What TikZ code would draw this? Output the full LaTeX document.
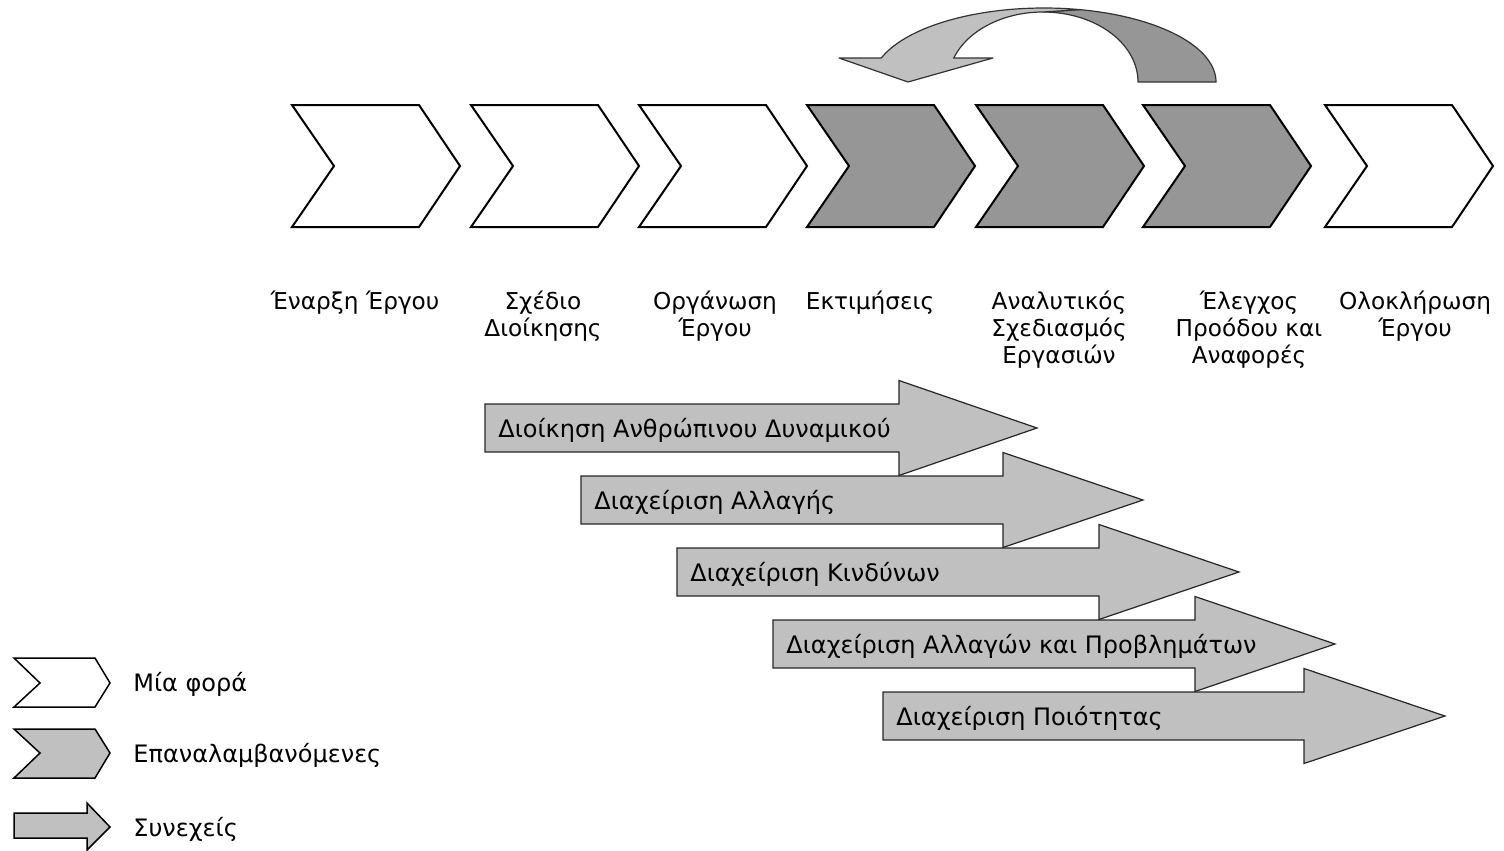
\documentclass[tikz,border=0pt]{standalone}
\usepackage{fontspec}
\setmainfont{DejaVu Sans}
\definecolor{lightg}{HTML}{C0C0C0}
\definecolor{darkg}{HTML}{969696}
\tikzset{
  chev/.style={draw=black, line width=1pt, line join=miter},
  legshape/.style={draw=black, line width=0.75pt, line join=miter},
  contshape/.style={draw=black!85, line width=0.6pt, fill=lightg, line join=miter},
  curveshape/.style={draw=black!80, line width=0.6pt, line join=round},
  lab/.style={font=\fontsize{11.6}{13.5}\selectfont, align=center, inner sep=0pt, anchor=base},
  atext/.style={font=\fontsize{12}{14}\selectfont, inner sep=0pt, anchor=base west},
}
\newcommand\mychev[2]{%
  \draw[chev, fill=#2] (#1,105) -- ++(127,0) -- ++(41,61) -- ++(-41,61) -- ++(-127,0) -- ++(42,-61) -- cycle;}
\newcommand\contarrow[6]{%
  \draw[contshape] ({#2},{#3}) -- ({#4},{#3}) -- ({#4},{#3-23.5}) -- ({#5},{#3+24})
    -- ({#4},{#3+71.5}) -- ({#4},{#3+48}) -- ({#2},{#3+48}) -- cycle;
  \node[atext] (#1) at ({#2+13},{#3+33}) {#6};}
\begin{document}
\begin{tikzpicture}[x=0.5pt, y=-0.5pt]
\useasboundingbox (0,0) rectangle (1504,851);

% curved arrow: back (dark) part
\draw[curveshape, fill=darkg] (1043,12) -- (1080,9.6)
  -- plot[domain=78:0, samples=40, variable=\t] ({1044+172*cos(\t)}, {82-74*sin(\t)})
  -- (1138,82)
  -- plot[domain=0:90, samples=40, variable=\t] ({1043+95*cos(\t)}, {82-70*sin(\t)})
  -- cycle;
% curved arrow: front (light) part with head
\draw[curveshape, fill=lightg] (839,58) -- (881,58)
  -- plot[domain=161:78, samples=50, variable=\t] ({1044+172*cos(\t)}, {82-74*sin(\t)})
  -- (1043,12)
  -- plot[domain=90:160, samples=40, variable=\t] ({1043+95*cos(\t)}, {82-70*sin(\t)})
  -- (993,58) -- (908,82) -- cycle;

% chevrons
\mychev{292}{white}
\mychev{471}{white}
\mychev{639}{white}
\mychev{807}{darkg}
\mychev{976}{darkg}
\mychev{1143}{darkg}
\mychev{1325}{white}

% labels (base anchor = baseline of last line)
\node[lab] (l1) at (355,309) {Έναρξη Έργου};
\node[lab] (l2) at (543,336) {Σχέδιο\\Διοίκησης};
\node[lab] (l3) at (715,336) {Οργάνωση\\Έργου};
\node[lab] (l4) at (870,309) {Εκτιμήσεις};
\node[lab] (l5) at (1059,363) {Αναλυτικός\\Σχεδιασμός\\Εργασιών};
\node[lab] (l6) at (1249,363) {Έλεγχος\\Προόδου και\\Αναφορές};
\node[lab] (l7) at (1415,336) {Ολοκλήρωση\\Έργου};

% continuous arrows
\contarrow{a1}{485}{404}{899}{1037}{Διοίκηση Ανθρώπινου Δυναμικού}
\contarrow{a2}{581}{476}{1003}{1143}{Διαχείριση Αλλαγής}
\contarrow{a3}{677}{548}{1099}{1239}{Διαχείριση Κινδύνων}
\contarrow{a4}{773}{620}{1195}{1335}{Διαχείριση Αλλαγών και Προβλημάτων}
\contarrow{a5}{883}{692}{1304}{1445}{Διαχείριση Ποιότητας}

% legend
\draw[legshape, fill=white] (14,658) -- (95,658) -- (110,683) -- (95,707) -- (14,707) -- (40,683) -- cycle;
\draw[legshape, fill=lightg] (14,729) -- (95,729) -- (110,753) -- (95,778) -- (14,778) -- (40,753) -- cycle;
\draw[legshape, fill=lightg] (14,813) -- (87,813) -- (87,803) -- (110,827) -- (87,850) -- (87,838) -- (14,838) -- cycle;
\node[atext] (m1) at (133,691) {Μία φορά};
\node[atext] (m2) at (133,762) {Επαναλαμβανόμενες};
\node[atext] (m3) at (133,836) {Συνεχείς};
\end{tikzpicture}
\end{document}
